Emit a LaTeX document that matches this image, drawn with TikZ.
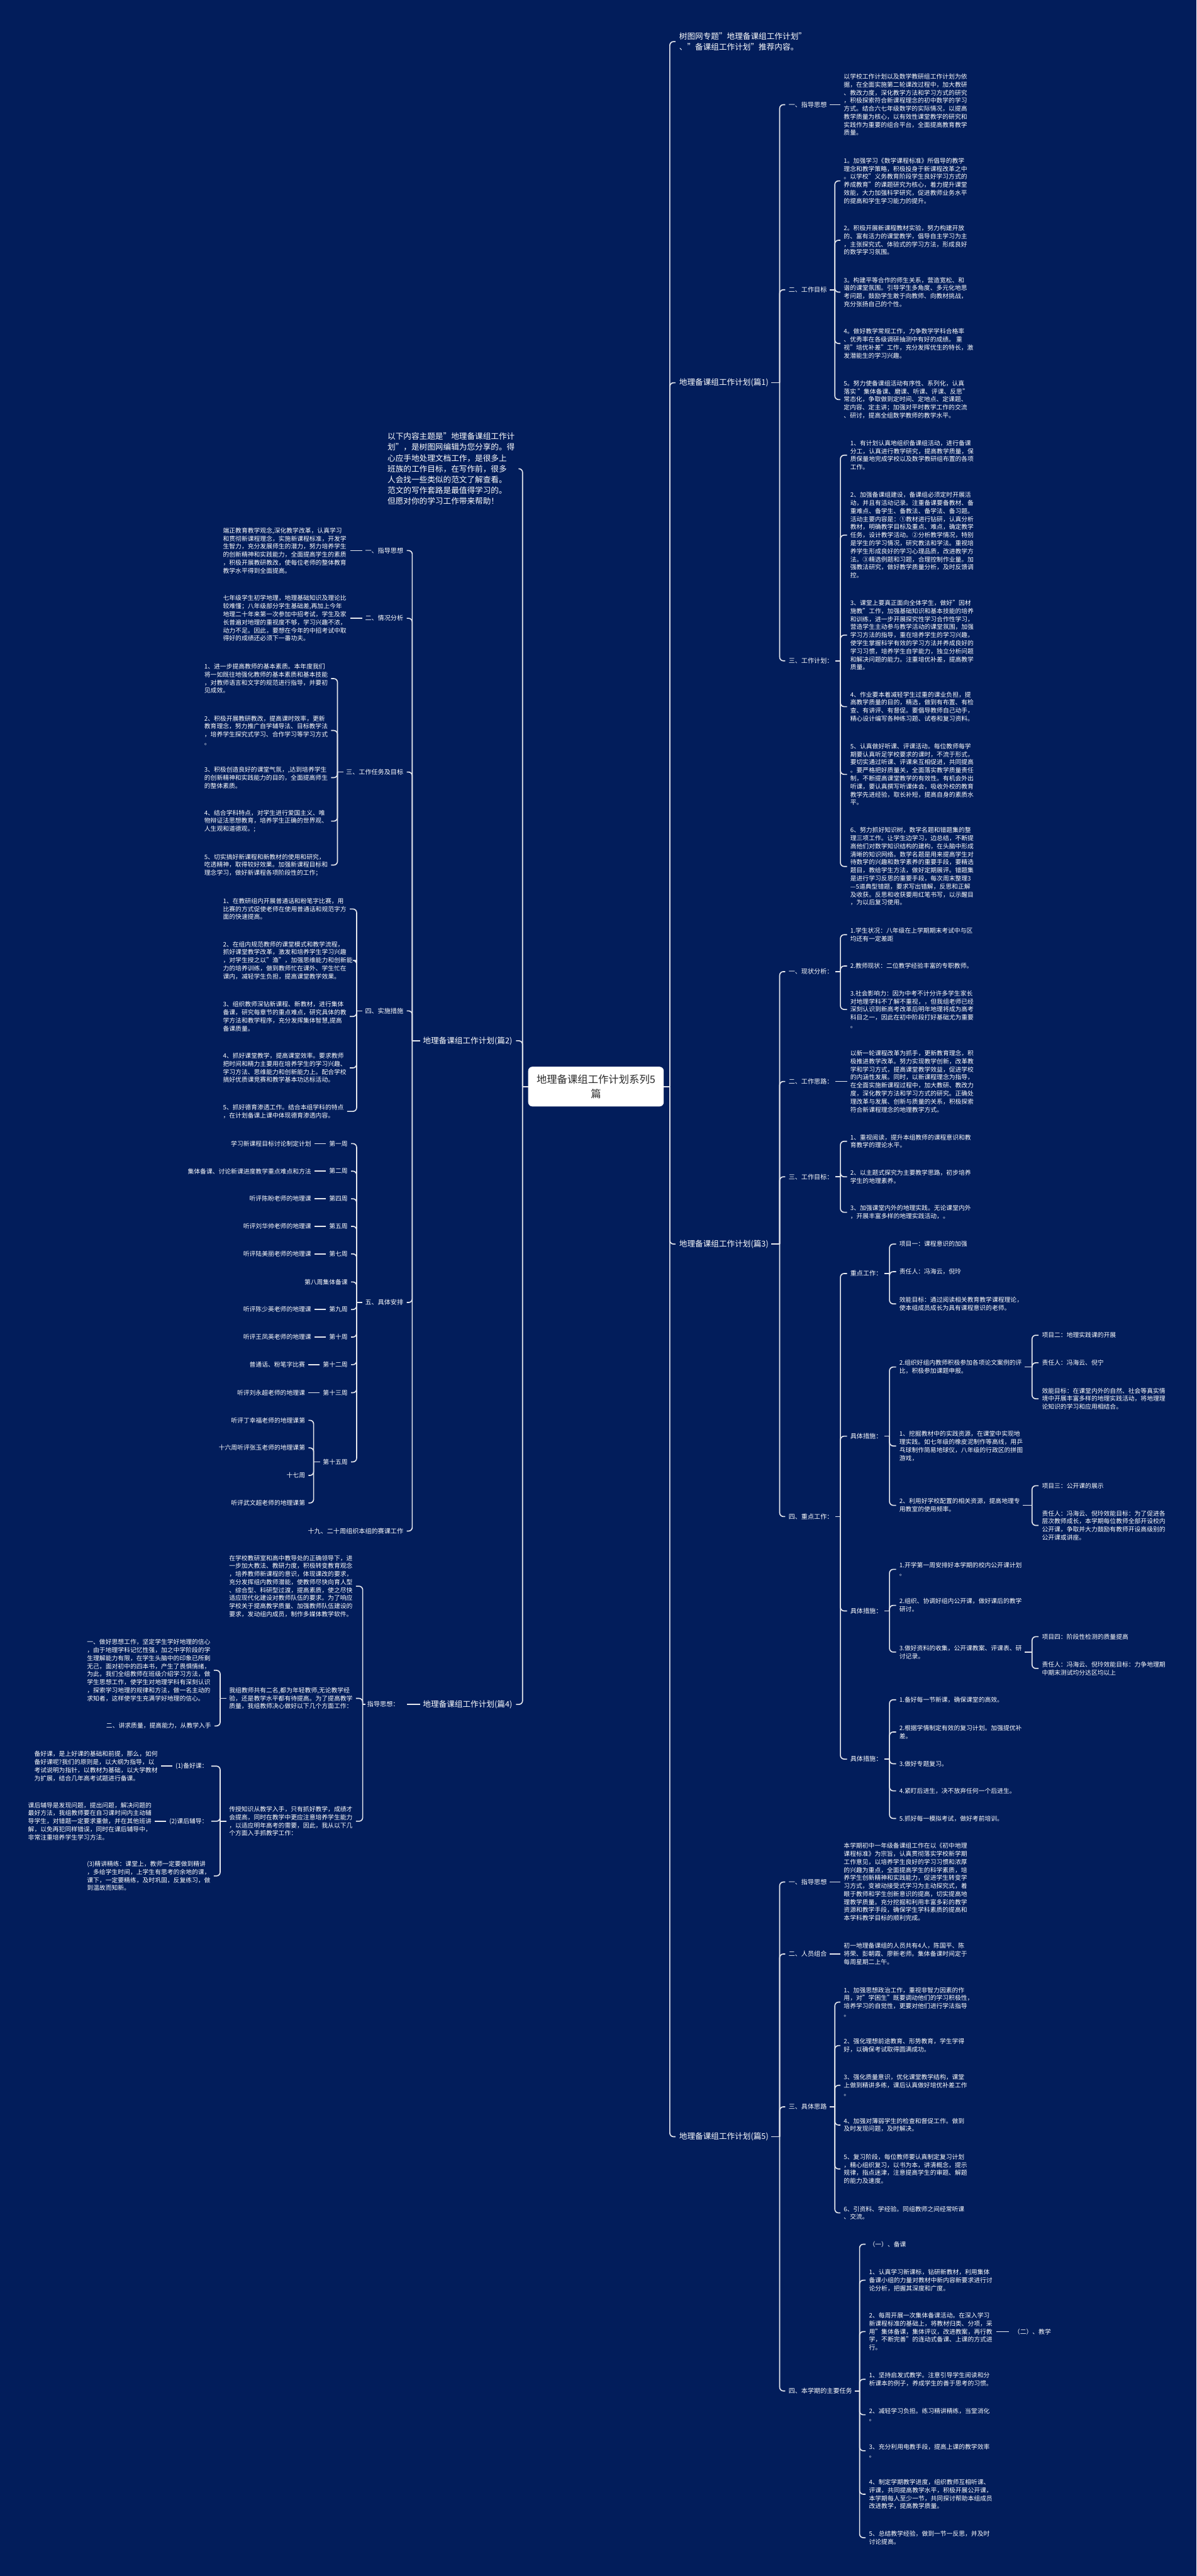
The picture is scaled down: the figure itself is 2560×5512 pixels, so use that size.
\documentclass[tikz,border=0pt]{standalone}
\usepackage{fontspec}
\setmainfont{Noto Sans CJK SC}
\usetikzlibrary{positioning}
\definecolor{bgNavy}{HTML}{021D5B}
\definecolor{lineGray}{HTML}{E6E8EE}
\definecolor{rootInk}{HTML}{2B2B2B}
\tikzset{
  link/.style={draw=lineGray, line width=2.2pt, rounded corners=8pt},
  txt/.style={text=white, inner sep=0pt, align=left, font=\fontsize{13.2pt}{17.2pt}\selectfont},
  lbl/.style={txt, font=\fontsize{13.6pt}{17.2pt}\selectfont},
  topic/.style={txt, font=\fontsize{17pt}{23pt}\selectfont},
  rootBox/.style={fill=white, rounded corners=9pt, text=rootInk, align=center,
    minimum width=290pt, minimum height=85pt, inner sep=0pt,
    font=\fontsize{22pt}{30pt}\selectfont}
}

\begin{document}
\begin{tikzpicture}[x=1pt, y=-1pt]
%背景
\fill[bgNavy] (0,0) rectangle (2560,5512);
\useasboundingbox (0,0) rectangle (2560,5512);

%中心主题
\node[rootBox] (nRoot) at (1275,2325) {地理备课组工作计划系列5\\篇};
\coordinate (jR) at (1433,2325);
\coordinate (jL) at (1118,2325);
\draw[link] (nRoot.east) -- (jR);
\draw[link] (nRoot.west) -- (jL);

%右侧
\node[topic, anchor=west] (nIntroR) at (1453,89) {树图网专题"地理备课组工作计划"\\、"备课组工作计划"推荐内容。};
\node[topic, anchor=west] (nP1) at (1453,819) {地理备课组工作计划(篇1)};
\node[topic, anchor=west] (nP3) at (1453,2662) {地理备课组工作计划(篇3)};
\node[topic, anchor=west] (nP5) at (1453,4572) {地理备课组工作计划(篇5)};
\foreach \c in {nIntroR,nP1,nP3,nP5}
  \draw[link] (jR) |- ([xshift=-8pt]\c.west);

%篇1
\coordinate (jP1) at (1668,819);
\draw[link] ([xshift=6pt]nP1.east) -- (jP1);
\node[lbl, anchor=west] (nP1A) at (1687,224) {一、指导思想};
\node[lbl, anchor=west] (nP1B) at (1687,620) {二、工作目标};
\node[lbl, anchor=west] (nP1C) at (1687,1414) {三、工作计划：};
\foreach \c in {nP1A,nP1B,nP1C}
  \draw[link] (jP1) |- ([xshift=-7pt]\c.west);

\node[txt, anchor=west] (nP1A1) at (1805,224) {以学校工作计划以及数学教研组工作计划为依\\据，在全面实施第二轮课改过程中，加大教研\\、教改力度，深化教学方法和学习方式的研究\\，积极探索符合新课程理念的初中数学的学习\\方式。结合六七年级数学的实际情况，以提高\\教学质量为核心，以有效性课堂教学的研究和\\实践作为重要的组合平台，全面提高教育教学\\质量。};
\draw[link] ([xshift=6pt]nP1A.east) -- ([xshift=-7pt]nP1A1.west);

\coordinate (jP1B) at (1786,620);
\draw[link] ([xshift=6pt]nP1B.east) -- (jP1B);
\node[txt, anchor=west] (nP1B1) at (1805,387) {1。加强学习《数学课程标准》所倡导的教学\\理念和教学策略，积极投身于新课程改革之中\\。以学校"义务教育阶段学生良好学习方式的\\养成教育"的课题研究为核心，着力提升课堂\\效能，大力加强科学研究，促进教师业务水平\\的提高和学生学习能力的提升。};
\node[txt, anchor=west] (nP1B2) at (1805,514) {2。积极开展新课程教材实验，努力构建开放\\的、富有活力的课堂教学，倡导自主学习为主\\，主张探究式、体验式的学习方法，形成良好\\的数学学习氛围。};
\node[txt, anchor=west] (nP1B3) at (1805,625) {3。构建平等合作的师生关系，营造宽松、和\\谐的课堂氛围。引导学生多角度、多元化地思\\考问题，鼓励学生敢于向教师、向教材挑战，\\充分张扬自己的个性。};
\node[txt, anchor=west] (nP1B4) at (1805,735) {4。做好教学常规工作，力争数学学科合格率\\、优秀率在各级调研抽测中有好的成绩。 重\\视"培优补差"工作，充分发挥优生的特长，激\\发潜能生的学习兴趣。};
\node[txt, anchor=west] (nP1B5) at (1805,855) {5。努力使备课组活动有序性、系列化，认真\\落实 "集体备课、磨课、听课、评课、反思"\\常态化，争取做到定时间、定地点、定课题、\\定内容、定主讲；加强对平时教学工作的交流\\、研讨，提高全组数学教师的教学水平。};
\foreach \c in {nP1B1,nP1B2,nP1B3,nP1B4,nP1B5}
  \draw[link] (jP1B) |- ([xshift=-7pt]\c.west);

\coordinate (jP1C) at (1798,1414);
\draw[link] ([xshift=5pt]nP1C.east) -- (jP1C);
\node[txt, anchor=west] (nP1C1) at (1819,974) {1、有计划认真地组织备课组活动，进行备课\\分工，认真进行教学研究，提高教学质量，保\\质保量地完成学校以及数学教研组布置的各项\\工作。};
\node[txt, anchor=west] (nP1C2) at (1819,1145) {2、加强备课组建设，备课组必须定时开展活\\动，并且有活动记录。注重备课要备教材、备\\重难点、备学生、备教法、备学法、备习题。\\活动主要内容是：①教材进行钻研，认真分析\\教材，明确教学目标及重点、难点，确定教学\\任务，设计教学活动。②分析教学情况，特别\\是学生的学习情况，研究教法和学法。重视培\\养学生形成良好的学习心理品质，改进教学方\\法。③精选例题和习题，合理控制作业量。加\\强教法研究，做好教学质量分析，及时反馈调\\控。};
\node[txt, anchor=west] (nP1C3) at (1819,1359) {3、课堂上要真正面向全体学生，做好"因材\\施教"工作，加强基础知识和基本技能的培养\\和训练，进一步开展探究性学习合作性学习，\\营造学生主动参与教学活动的课堂氛围，加强\\学习方法的指导，重在培养学生的学习兴趣，\\使学生掌握科学有效的学习方法并养成良好的\\学习习惯，培养学生自学能力，独立分析问题\\和解决问题的能力。注重培优补差，提高教学\\质量。};
\node[txt, anchor=west] (nP1C4) at (1819,1512) {4、作业要本着减轻学生过重的课业负担，提\\高教学质量的目的，精选，做到有布置、有检\\查、有讲评、有督促。要倡导教师自己动手，\\精心设计编写各种练习题、试卷和复习资料。};
\node[txt, anchor=west] (nP1C5) at (1819,1657) {5、认真做好听课、评课活动。每位教师每学\\期要认真听足学校要求的课时，不流于形式，\\要切实通过听课、评课来互相促进，共同提高\\。要严格把好质量关，全面落实教学质量责任\\制，不断提高课堂教学的有效性。有机会外出\\听课，要认真撰写听课体会，吸收外校的教育\\教学先进经验，取长补短，提高自身的素质水\\平。};
\node[txt, anchor=west] (nP1C6) at (1819,1854) {6、努力抓好知识树，数学名题和错题集的整\\理三项工作。让学生边学习，边总结，不断提\\高他们对数学知识结构的建构，在头脑中形成\\清晰的知识网络。数学名题是用来提高学生对\\待数学的兴趣和数学素养的重要手段，要精选\\题目，教给学生方法，做好定期展评。错题集\\是进行学习反思的重要手段，每次周末整理3\\—5道典型错题，要求写出错解，反思和正解\\及收获。反思和收获要用红笔书写，以示醒目\\，为以后复习使用。};
\foreach \c in {nP1C1,nP1C2,nP1C3,nP1C4,nP1C5,nP1C6}
  \draw[link] (jP1C) |- ([xshift=-7pt]\c.west);

%篇3
\coordinate (jP3) at (1668,2662);
\draw[link] ([xshift=6pt]nP3.east) -- (jP3);
\node[lbl, anchor=west] (nP3A) at (1687,2079) {一、现状分析：};
\node[lbl, anchor=west] (nP3B) at (1687,2314) {二、工作思路：};
\node[lbl, anchor=west] (nP3C) at (1687,2518) {三、工作目标：};
\node[lbl, anchor=west] (nP3D) at (1687,3245) {四、重点工作：};
\foreach \c in {nP3A,nP3B,nP3C,nP3D}
  \draw[link] (jP3) |- ([xshift=-7pt]\c.west);

\coordinate (jP3A) at (1798,2079);
\draw[link] ([xshift=5pt]nP3A.east) -- (jP3A);
\node[txt, anchor=west] (nP3A1) at (1819,2000) {1.学生状况：八年级在上学期期末考试中与区\\均还有一定差距};
\node[txt, anchor=west] (nP3A2) at (1819,2067) {2.教师现状：二位教学经验丰富的专职教师。};
\node[txt, anchor=west] (nP3A3) at (1819,2160) {3.社会影响力：因为中考不计分许多学生家长\\对地理学科不了解不重视，，但我组老师已经\\深刻认识到新高考改革后明年地理将成为高考\\科目之一，因此在初中阶段打好基础尤为重要\\。};
\foreach \c in {nP3A1,nP3A2,nP3A3}
  \draw[link] (jP3A) |- ([xshift=-7pt]\c.west);

\node[txt, anchor=west] (nP3B1) at (1819,2314) {以新一轮课程改革为抓手，更新教育理念，积\\极推进教学改革。努力实现教学创新，改革教\\学和学习方式，提高课堂教学效益，促进学校\\的内涵性发展。同时，以新课程理念为指导，\\在全面实施新课程过程中，加大教研、教改力\\度，深化教学方法和学习方式的研究。正确处\\理改革与发展、创新与质量的关系，积极探索\\符合新课程理念的地理教学方式。};
\draw[link] ([xshift=5pt]nP3B.east) -- ([xshift=-7pt]nP3B1.west);

\coordinate (jP3C) at (1798,2518);
\draw[link] ([xshift=5pt]nP3C.east) -- (jP3C);
\node[txt, anchor=west] (nP3C1) at (1819,2442) {1、重视阅读，提升本组教师的课程意识和教\\育教学的理论水平。};
\node[txt, anchor=west] (nP3C2) at (1819,2518) {2、以主题式探究为主要教学思路，初步培养\\学生的地理素养。};
\node[txt, anchor=west] (nP3C3) at (1819,2594) {3、加强课堂内外的地理实践。无论课堂内外\\，开展丰富多样的地理实践活动，。};
\foreach \c in {nP3C1,nP3C2,nP3C3}
  \draw[link] (jP3C) |- ([xshift=-7pt]\c.west);

\coordinate (jP3D) at (1798,3245);
\draw[link] ([xshift=5pt]nP3D.east) -- (jP3D);
\node[lbl, anchor=west] (nP3D1) at (1819,2725) {重点工作：};
\node[lbl, anchor=west] (nP3D2) at (1819,3073) {具体措施：};
\node[lbl, anchor=west] (nP3D3) at (1819,3447) {具体措施：};
\node[lbl, anchor=west] (nP3D4) at (1819,3764) {具体措施：};
\foreach \c in {nP3D1,nP3D2,nP3D3,nP3D4}
  \draw[link] (jP3D) |- ([xshift=-7pt]\c.west);

\coordinate (jP3D1) at (1903,2725);
\draw[link] ([xshift=5pt]nP3D1.east) -- (jP3D1);
\node[txt, anchor=west] (nP3D1a) at (1924,2662) {项目一：课程意识的加强};
\node[txt, anchor=west] (nP3D1b) at (1924,2721) {责任人：冯海云，倪玲};
\node[txt, anchor=west] (nP3D1c) at (1924,2790) {效能目标：通过阅读相关教育教学课程理论，\\使本组成员成长为具有课程意识的老师。};
\foreach \c in {nP3D1a,nP3D1b,nP3D1c}
  \draw[link] (jP3D1) |- ([xshift=-7pt]\c.west);

\coordinate (jP3D2) at (1903,3073);
\draw[link] ([xshift=5pt]nP3D2.east) -- (jP3D2);
\node[txt, anchor=west] (nP3D2a) at (1924,2925) {2.组织好组内教师积极参加各项论文案例的评\\比，积极参加课题申报。};
\node[txt, anchor=west] (nP3D2b) at (1924,3094) {1、挖掘教材中的实践资源，在课堂中实现地\\理实践。如七年级的橡皮泥制作等高线，用乒\\乓球制作简易地球仪，八年级的行政区的拼图\\游戏，};
\node[txt, anchor=west] (nP3D2c) at (1924,3221) {2、利用好学校配置的相关资源，提高地理专\\用教室的使用频率。};
\foreach \c in {nP3D2a,nP3D2b,nP3D2c}
  \draw[link] (jP3D2) |- ([xshift=-7pt]\c.west);

\coordinate (jP3D2a) at (2208,2925);
\draw[link] ([xshift=6pt]nP3D2a.east) -- (jP3D2a);
\node[txt, anchor=west] (nP3D2a1) at (2229,2857) {项目二：地理实践课的开展};
\node[txt, anchor=west] (nP3D2a2) at (2229,2916) {责任人：冯海云、倪宁};
\node[txt, anchor=west] (nP3D2a3) at (2229,2993) {效能目标：在课堂内外的自然、社会等真实情\\境中开展丰富多样的地理实践活动，将地理理\\论知识的学习和应用相结合。};
\foreach \c in {nP3D2a1,nP3D2a2,nP3D2a3}
  \draw[link] (jP3D2a) |- ([xshift=-7pt]\c.west);

\coordinate (jP3D2c) at (2208,3221);
\draw[link] ([xshift=6pt]nP3D2c.east) -- (jP3D2c);
\node[txt, anchor=west] (nP3D2c1) at (2229,3179) {项目三：公开课的展示};
\node[txt, anchor=west] (nP3D2c2) at (2229,3264) {责任人：冯海云、倪玲效能目标：为了促进各\\层次教师成长，本学期每位教师全部开设校内\\公开课，争取并大力鼓励有教师开设高级别的\\公开课或讲座。};
\foreach \c in {nP3D2c1,nP3D2c2}
  \draw[link] (jP3D2c) |- ([xshift=-7pt]\c.west);

\coordinate (jP3D3) at (1903,3447);
\draw[link] ([xshift=5pt]nP3D3.east) -- (jP3D3);
\node[txt, anchor=west] (nP3D3a) at (1924,3358) {1.开学第一周安排好本学期的校内公开课计划\\。};
\node[txt, anchor=west] (nP3D3b) at (1924,3435) {2.组织、协调好组内公开课，做好课后的教学\\研讨。};
\node[txt, anchor=west] (nP3D3c) at (1924,3535) {3.做好资料的收集，公开课教案、评课表、研\\讨记录。};
\foreach \c in {nP3D3a,nP3D3b,nP3D3c}
  \draw[link] (jP3D3) |- ([xshift=-7pt]\c.west);

\coordinate (jP3D3c) at (2208,3535);
\draw[link] ([xshift=6pt]nP3D3c.east) -- (jP3D3c);
\node[txt, anchor=west] (nP3D3c1) at (2229,3502) {项目四：阶段性检测的质量提高};
\node[txt, anchor=west] (nP3D3c2) at (2229,3570) {责任人：冯海云、倪玲效能目标：力争地理期\\中期末测试均分达区均以上};
\foreach \c in {nP3D3c1,nP3D3c2}
  \draw[link] (jP3D3c) |- ([xshift=-7pt]\c.west);

\coordinate (jP3D4) at (1903,3764);
\draw[link] ([xshift=5pt]nP3D4.east) -- (jP3D4);
\node[txt, anchor=west] (nP3D4a) at (1924,3637) {1.备好每一节新课，确保课堂的高效。};
\node[txt, anchor=west] (nP3D4b) at (1924,3706) {2.根据学情制定有效的复习计划。加强提优补\\差。};
\node[txt, anchor=west] (nP3D4c) at (1924,3774) {3.做好专题复习。};
\node[txt, anchor=west] (nP3D4d) at (1924,3832) {4.紧盯后进生，决不放弃任何一个后进生。};
\node[txt, anchor=west] (nP3D4e) at (1924,3891) {5.抓好每一模拟考试，做好考前培训。};
\foreach \c in {nP3D4a,nP3D4b,nP3D4c,nP3D4d,nP3D4e}
  \draw[link] (jP3D4) |- ([xshift=-7pt]\c.west);

%篇5
\coordinate (jP5) at (1668,4572);
\draw[link] ([xshift=6pt]nP5.east) -- (jP5);
\node[lbl, anchor=west] (nP5A) at (1687,4027) {一、指导思想};
\node[lbl, anchor=west] (nP5B) at (1687,4181) {二、人员组合};
\node[lbl, anchor=west] (nP5C) at (1687,4508) {三、具体思路};
\node[lbl, anchor=west] (nP5D) at (1687,5116) {四、本学期的主要任务};
\foreach \c in {nP5A,nP5B,nP5C,nP5D}
  \draw[link] (jP5) |- ([xshift=-7pt]\c.west);

\node[txt, anchor=west] (nP5A1) at (1805,4027) {本学期初中一年级备课组工作在以《初中地理\\课程标准》为宗旨，认真贯彻落实学校新学期\\工作意见，以培养学生良好的学习习惯和浓厚\\的兴趣为重点，全面提高学生的科学素质，培\\养学生创新精神和实践能力，促进学生转变学\\习方式，变被动接受式学习为主动探究式，着\\眼于教师和学生创新意识的提高，切实提高地\\理教学质量。充分挖掘和利用丰富多彩的教学\\资源和教学手段，确保学生学科素质的提高和\\本学科教学目标的顺利完成。};
\draw[link] ([xshift=6pt]nP5A.east) -- ([xshift=-7pt]nP5A1.west);
\node[txt, anchor=west] (nP5B1) at (1805,4181) {初一地理备课组的人员共有4人，陈国平、陈\\将荣、彭朝霞、廖新老师。集体备课时间定于\\每周星期二上午。};
\draw[link] ([xshift=6pt]nP5B.east) -- ([xshift=-7pt]nP5B1.west);

\coordinate (jP5C) at (1786,4508);
\draw[link] ([xshift=6pt]nP5C.east) -- (jP5C);
\node[txt, anchor=west] (nP5C1) at (1805,4284) {1、加强思想政治工作，重视非智力因素的作\\用，对"学困生"既要调动他们的学习积极性，\\培养学习的自觉性，更要对他们进行学法指导\\。};
\node[txt, anchor=west] (nP5C2) at (1805,4377) {2、强化理想前途教育、形势教育，学生学得\\好，以确保考试取得圆满成功。};
\node[txt, anchor=west] (nP5C3) at (1805,4462) {3、强化质量意识，优化课堂教学结构，课堂\\上做到精讲多练，课后认真做好培优补差工作\\。};
\node[txt, anchor=west] (nP5C4) at (1805,4547) {4、加强对薄弱学生的检查和督促工作。做到\\及时发现问题，及时解决。};
\node[txt, anchor=west] (nP5C5) at (1805,4641) {5、复习阶段，每位教师要认真制定复习计划\\，精心组织复习，以书为本，讲清概念，提示\\规律，指点迷津，注意提高学生的审题、解题\\的能力及速度。};
\node[txt, anchor=west] (nP5C6) at (1805,4735) {6、引资料、学经验。同组教师之间经常听课\\、交流。};
\foreach \c in {nP5C1,nP5C2,nP5C3,nP5C4,nP5C5,nP5C6}
  \draw[link] (jP5C) |- ([xshift=-7pt]\c.west);

\coordinate (jP5D) at (1839,5116);
\draw[link] ([xshift=5pt]nP5D.east) -- (jP5D);
\node[txt, anchor=west] (nP5D1) at (1859,4802) {（一）、备课};
\node[txt, anchor=west] (nP5D2) at (1859,4879) {1、认真学习新课标，钻研新教材，利用集体\\备课小组的力量对教材中新内容新要求进行讨\\论分析，把握其深度和广度。};
\node[txt, anchor=west] (nP5D3) at (1859,4989) {2、每周开展一次集体备课活动。在深入学习\\新课程标准的基础上，将教材归类、分项，采\\用"集体备课，集体评议，改进教案，再行教\\学，不断完善"的连动式备课、上课的方式进\\行。};
\node[txt, anchor=west] (nP5D4) at (1859,5091) {1、坚持启发式教学。注意引导学生阅读和分\\析课本的例子，养成学生的善于思考的习惯。};
\node[txt, anchor=west] (nP5D5) at (1859,5167) {2、减轻学习负担。练习精讲精练，当堂消化\\。};
\node[txt, anchor=west] (nP5D6) at (1859,5244) {3、充分利用电教手段，提高上课的教学效率\\。};
\node[txt, anchor=west] (nP5D7) at (1859,5337) {4、制定学期教学进度，组织教师互相听课、\\评课，共同提高教学水平，积极开展公开课，\\本学期每人至少一节，共同探讨帮助本组成员\\改进教学，提高教学质量。};
\node[txt, anchor=west] (nP5D8) at (1859,5430) {5、总结教学经验，做到一节一反思，并及时\\讨论提高。};
\foreach \c in {nP5D1,nP5D2,nP5D3,nP5D4,nP5D5,nP5D6,nP5D7,nP5D8}
  \draw[link] (jP5D) |- ([xshift=-7pt]\c.west);
\node[txt, anchor=west] (nP5D3a) at (2169,4989) {（二）、教学};
\draw[link] ([xshift=8pt]nP5D3.east) -- ([xshift=-10pt]nP5D3a.west);

%左侧
\node[topic, anchor=west] (nIntroL) at (829,1003) {以下内容主题是"地理备课组工作计\\划"，是树图网编辑为您分享的。得\\心应手地处理文档工作，是很多上\\班族的工作目标，在写作前，很多\\人会找一些类似的范文了解查看。\\范文的写作套路是最值得学习的。\\但愿对你的学习工作带来帮助！};
\node[topic, anchor=east] (nP2) at (1096,2227) {地理备课组工作计划(篇2)};
\node[topic, anchor=east] (nP4) at (1096,3647) {地理备课组工作计划(篇4)};
\foreach \c in {nIntroL,nP2,nP4}
  \draw[link] (jL) |- ([xshift=8pt]\c.east);

%篇2
\coordinate (jP2) at (882,2227);
\draw[link] ([xshift=-6pt]nP2.west) -- (jP2);
\node[lbl, anchor=east] (nP2A) at (863,1178) {一、指导思想};
\node[lbl, anchor=east] (nP2B) at (863,1323) {二、情况分析};
\node[lbl, anchor=east] (nP2C) at (863,1652) {三、工作任务及目标};
\node[lbl, anchor=east] (nP2D) at (863,2163) {四、实施措施};
\node[lbl, anchor=east] (nP2E) at (863,2787) {五、具体安排};
\node[lbl, anchor=east] (nP2F) at (863,3276) {十九、二十周组织本组的赛课工作};
\foreach \c in {nP2A,nP2B,nP2C,nP2D,nP2E,nP2F}
  \draw[link] (jP2) |- ([xshift=7pt]\c.east);

\node[txt, anchor=west] (nP2A1) at (477,1178) {端正教育教学观念,深化教学改革，认真学习\\和贯彻新课程理念，实施新课程标准，开发学\\生智力，充分发展师生的潜力，努力培养学生\\的创新精神和实践能力，全面提高学生的素质\\，积极开展教研教改，使每位老师的整体教育\\教学水平得到全面提高。};
\draw[link] ([xshift=-6pt]nP2A.west) -- ([xshift=8pt]nP2A1.east);
\node[txt, anchor=west] (nP2B1) at (477,1323) {七年级学生初学地理，地理基础知识及理论比\\较难懂；八年级部分学生基础差,再加上今年\\地理二十年来第一次参加中招考试，学生及家\\长普遍对地理的重视度不够，学习兴趣不浓，\\动力不足。因此，要想在今年的中招考试中取\\得好的成绩还必须下一番功夫。};
\draw[link] ([xshift=-6pt]nP2B.west) -- ([xshift=8pt]nP2B1.east);

\coordinate (jP2C) at (722,1652);
\draw[link] ([xshift=-6pt]nP2C.west) -- (jP2C);
\node[txt, anchor=west] (nP2C1) at (437,1452) {1、进一步提高教师的基本素质。本年度我们\\将一如既往地强化教师的基本素质和基本技能\\，对教师语言和文字的规范进行指导，并要初\\见成效。};
\node[txt, anchor=west] (nP2C2) at (437,1563) {2、积极开展教研教改，提高课时效率，更新\\教育理念，努力推广自学辅导法、目标教学法\\，培养学生探究式学习、合作学习等学习方式\\。};
\node[txt, anchor=west] (nP2C3) at (437,1664) {3、积极创造良好的课堂气氛，,达到培养学生\\的创新精神和实践能力的目的，全面提高师生\\的整体素质。};
\node[txt, anchor=west] (nP2C4) at (437,1757) {4、结合学科特点，对学生进行爱国主义、唯\\物辩证法思想教育，培养学生正确的世界观、\\人生观和道德观。;};
\node[txt, anchor=west] (nP2C5) at (437,1851) {5、切实搞好新课程和新教材的使用和研究，\\吃透精神，取得较好效果。加强新课程目标和\\理念学习，做好新课程各项阶段性的工作；};
\foreach \c in {nP2C1,nP2C2,nP2C3,nP2C4,nP2C5}
  \draw[link] (jP2C) |- ([xshift=7pt]\c.east);

\coordinate (jP2D) at (763,2163);
\draw[link] ([xshift=-6pt]nP2D.west) -- (jP2D);
\node[txt, anchor=west] (nP2D1) at (477,1945) {1、在教研组内开展普通话和粉笔字比赛，用\\比赛的方式促使老师在使用普通话和规范字方\\面的快速提高。};
\node[txt, anchor=west] (nP2D2) at (477,2055) {2、在组内规范教师的课堂模式和教学流程，\\抓好课堂教学改革，激发和培养学生学习兴趣\\，对学生授之以"渔"，加强思维能力和创新能\\力的培养训练，做到教师忙在课外、学生忙在\\课内，减轻学生负担，提高课堂教学效果。};
\node[txt, anchor=west] (nP2D3) at (477,2175) {3、组织教师深钻新课程、新教材，进行集体\\备课，研究每章节的重点难点，研究具体的教\\学方法和教学程序，充分发挥集体智慧,提高\\备课质量。};
\node[txt, anchor=west] (nP2D4) at (477,2285) {4、抓好课堂教学，提高课堂效率。要求教师\\把时间和精力主要用在培养学生的学习兴趣、\\学习方法、思维能力和创新能力上。配合学校\\搞好优质课竞赛和教学基本功达标活动。};
\node[txt, anchor=west] (nP2D5) at (477,2378) {5、抓好德育渗透工作。结合本组学科的特点\\，在计划备课上课中体现德育渗透内容。};
\foreach \c in {nP2D1,nP2D2,nP2D3,nP2D4,nP2D5}
  \draw[link] (jP2D) |- ([xshift=7pt]\c.east);

\coordinate (jP2E) at (763,2787);
\draw[link] ([xshift=-6pt]nP2E.west) -- (jP2E);
\foreach \n/\y/\w in {1/2447/第一周, 2/2506/第二周, 3/2565/第四周, 4/2624/第五周, 5/2683/第七周, 6/2743/第八周集体备课, 7/2802/第九周, 8/2861/第十周, 9/2920/第十二周, 10/2980/第十三周, 11/3128/第十五周}
{
  \node[txt, anchor=east] (nW\n) at (744,\y) {\w};
  \draw[link] (jP2E) |- ([xshift=7pt]nW\n.east);
}
\foreach \n/\t in {1/学习新课程目标讨论制定计划, 2/集体备课、讨论新课进度教学重点难点和方法, 3/听评陈盼老师的地理课, 4/听评刘华帅老师的地理课, 5/听评陆美丽老师的地理课, 7/听评陈少英老师的地理课, 8/听评王凤英老师的地理课, 9/普通话、粉笔字比赛, 10/听评刘永超老师的地理课}
{
  \node[txt, left=38pt of nW\n] (nW\n-a) {\t};
  \draw[link] ([xshift=-7pt]nW\n.west) -- ([xshift=7pt]nW\n-a.east);
}
\coordinate (jW11) at (671,3128);
\draw[link] ([xshift=-6pt]nW11.west) -- (jW11);
\foreach \n/\y/\t in {1/3039/听评丁幸福老师的地理课第, 2/3098/十六周听评张玉老师的地理课第, 3/3157/十七周, 4/3216/听评武文超老师的地理课第}
{
  \node[txt, anchor=east] (nW11-\n) at (653,\y) {\t};
  \draw[link] (jW11) |- ([xshift=7pt]nW11-\n.east);
}

%篇4
\node[lbl, anchor=east] (nP4A) at (854,3647) {指导思想：};
\draw[link] ([xshift=-6pt]nP4.west) -- ([xshift=16pt]nP4A.east);
\coordinate (jP4A) at (776,3647);
\draw[link] ([xshift=-4pt]nP4A.west) -- (jP4A);
\node[txt, anchor=west] (nP4A1) at (490,3394) {在学校教研室和高中教导处的正确领导下，进\\一步加大教法、教研力度，积极转变教育观念\\，培养教师新课程的意识，体现课改的要求，\\充分发挥组内教师潜能，使教师尽快向育人型\\、综合型、科研型过渡，提高素质，使之尽快\\适应现代化建设对教师队伍的要求。为了响应\\学校关于提高教学质量、加强教师队伍建设的\\要求，发动组内成员，制作多媒体教学软件。};
\node[txt, anchor=west] (nP4A2) at (490,3634) {我组教师共有二名,都为年轻教师,无论教学经\\验，还是教学水平都有待提高。为了提高教学\\质量，我组教师决心做好以下几个方面工作：};
\node[txt, anchor=west] (nP4A3) at (490,3897) {传授知识从教学入手，只有抓好教学，成绩才\\会提高，同时在教学中更应注意培养学生能力\\，以适应明年高考的需要，因此，我从以下几\\个方面入手抓教学工作：};
\foreach \c in {nP4A1,nP4A2,nP4A3}
  \draw[link] (jP4A) |- ([xshift=7pt]\c.east);

\coordinate (jP4A2) at (471,3634);
\draw[link] ([xshift=-6pt]nP4A2.west) -- (jP4A2);
\node[txt, anchor=west] (nP4A2a) at (186,3574) {一、做好思想工作，坚定学生学好地理的信心\\，由于地理学科记忆性强，加之中学阶段的学\\生理解能力有限，在学生头脑中的印象已所剩\\无己，面对初中的四本书，产生了畏惧情绪，\\为此，我们全组教师在班级介绍学习方法，做\\学生思想工作，使学生对地理学科有深刻认识\\，探索学习地理的规律和方法，做一名主动的\\求知者，这样使学生充满学好地理的信心。};
\node[txt, anchor=east] (nP4A2b) at (452,3693) {二、讲求质量，提高能力，从教学入手};
\foreach \c in {nP4A2a,nP4A2b}
  \draw[link] (jP4A2) |- ([xshift=7pt]\c.east);

\coordinate (jP4A3) at (471,3897);
\draw[link] ([xshift=-6pt]nP4A3.west) -- (jP4A3);
\node[txt, anchor=east] (nP4A3a) at (445,3779) {(1)备好课：};
\node[txt, anchor=east] (nP4A3b) at (445,3897) {(2)课后辅导：};
\node[txt, anchor=west] (nP4A3c) at (186,4014) {(3)精讲精练：课堂上，教师一定要做到精讲\\，多给学生时间，上学生有思考的余地的课，\\课下，一定要精练，及时巩固，反复练习，做\\到温故而知新。};
\foreach \c in {nP4A3a,nP4A3b,nP4A3c}
  \draw[link] (jP4A3) |- ([xshift=7pt]\c.east);
\node[txt, left=38pt of nP4A3a] (nP4A3a1) {备好课，是上好课的基础和前提，那么，如何\\备好课呢?我们的原则是，以大纲为指导，以\\考试说明为指针，以教材为基础，以大学教材\\为扩展，结合几年高考试题进行备课。};
\draw[link] ([xshift=-7pt]nP4A3a.west) -- ([xshift=7pt]nP4A3a1.east);
\node[txt, left=38pt of nP4A3b] (nP4A3b1) {课后辅导是发现问题，提出问题，解决问题的\\最好方法，我组教师要在自习课时间内主动辅\\导学生，对错题一定要求重做，并在其他班讲\\解，以免再犯同样错误，同时在课后辅导中，\\非常注重培养学生学习方法。};
\draw[link] ([xshift=-7pt]nP4A3b.west) -- ([xshift=7pt]nP4A3b1.east);
\end{tikzpicture}
\end{document}
